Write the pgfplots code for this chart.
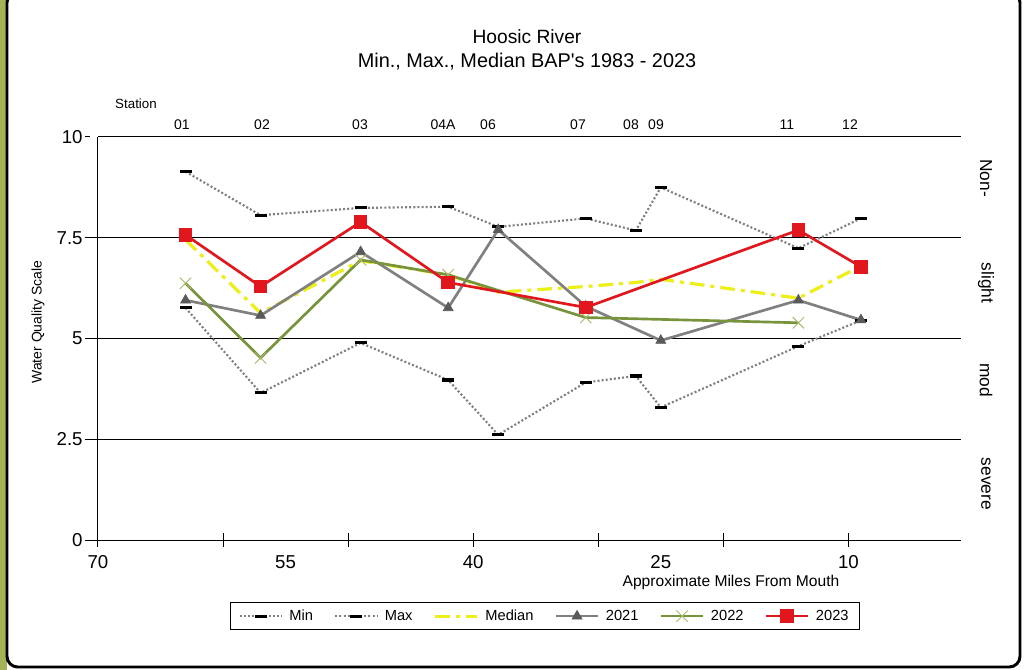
\documentclass[border=0pt]{standalone}
\usepackage{pgfplots}
\pgfplotsset{compat=1.18}
\usepackage{fontspec}
\setmainfont{Liberation Sans}
\definecolor{bgolive}{RGB}{165,178,85}
\definecolor{mmgrey}{RGB}{128,128,128}
\definecolor{medyellow}{RGB}{236,240,24}
\definecolor{g21line}{RGB}{128,128,128}
\definecolor{g21mark}{RGB}{90,90,90}
\definecolor{g22line}{RGB}{119,147,60}
\definecolor{g22mark}{RGB}{170,185,105}
\definecolor{r23}{RGB}{226,23,30}
\begin{document}
\begin{tikzpicture}
\begin{scope}[x=0.75pt,y=-0.75pt]
\useasboundingbox (0,0) rectangle (1026,670);
\fill[bgolive] (0,0) rectangle (1026,670);
\fill[white] (7,0) rectangle (1026,670);
\draw[line width=2.2pt, fill=white, rounded corners=8pt] (7,-8) rectangle (1020,667);
\end{scope}
\begin{axis}[
  at={(73.5pt,-405pt)}, anchor=south west,
  scale only axis, width=647.25pt, height=302.25pt,
  x dir=reverse, xmin=1, xmax=70, ymin=0, ymax=10,
  axis x line*=bottom, axis y line*=left,
  axis line style={line width=0.75pt, -},
  ytick={0,2.5,5,7.5,10}, yticklabels={0,2.5,5,7.5,10},
  ymajorgrids, grid style={black, line width=0.75pt},
  xtick={10,20,30,40,50,60,70}, xticklabels={10,{},{},40,{},{},70},
  xticklabel style={yshift=-3pt},
  extra x ticks={55,25}, extra x tick labels={55,25},
  extra x tick style={major tick length=0pt, grid=none,
     xticklabel style={yshift=-5pt}},
  x tick style={black, line width=0.75pt},
  y tick style={black, line width=0.75pt, shorten >=6pt},
  xtick align=center, ytick align=outside,
  major tick length=10pt,
  tick label style={font=\fontsize{14}{16}\selectfont},
  /pgf/number format/assume math mode=true,
  yticklabel style={xshift=2pt},
  clip=false,
  legend columns=6,
  legend image code/.code={\draw[mark repeat=2,mark phase=2] plot coordinates {(0cm,0cm) (0.55cm,0cm) (1.1cm,0cm)};},
  legend style={at={(0.518,-0.189)}, anchor=center, draw=black, line width=0.6pt,
    font=\fontsize{11}{13}\selectfont, inner xsep=6pt, inner ysep=3.5pt,
    /tikz/every even column/.append style={column sep=14pt},
    /tikz/every odd column/.append style={column sep=3pt}},
]
\addplot[mmgrey, line width=1.6pt, dash pattern=on 1.5pt off 1.6pt, mark=-, mark size=4.5pt,
  mark options={solid, black, line width=2.3pt}]
  coordinates {(63,5.76)(57,3.65)(49,4.89)(42,3.97)(38,2.61)(31,3.91)(27,4.07)(25,3.29)(14,4.81)(9,5.45)};
\addlegendentry{Min}
\addplot[mmgrey, line width=1.6pt, dash pattern=on 1.5pt off 1.6pt, mark=-, mark size=4.5pt,
  mark options={solid, black, line width=2.3pt}]
  coordinates {(63,9.14)(57,8.06)(49,8.24)(42,8.27)(38,7.77)(31,7.98)(27,7.68)(25,8.75)(14,7.24)(9,7.98)};
\addlegendentry{Max}
\addplot[medyellow, line width=2.4pt, dash pattern=on 11pt off 4.5pt on 3pt off 4.5pt, mark=none]
  coordinates {(63,7.45)(57,5.63)(49,6.93)(42,6.58)(38,6.15)(31,6.29)(27,6.39)(25,6.47)(14,6.0)(9,6.8)};
\addlegendentry{Median}
\addplot[g21line, line width=2pt, mark=triangle*, mark size=4.3pt,
  mark options={solid, fill=g21mark, draw=g21mark, line width=0.5pt}]
  coordinates {(63,5.95)(57,5.57)(49,7.15)(42,5.76)(38,7.7)(31,5.8)(25,4.95)(14,5.95)(9,5.46)};
\addlegendentry{2021}
\addplot[g22line, line width=2pt, mark=x, mark size=6pt,
  mark options={solid, draw=g22mark, line width=0.7pt}]
  coordinates {(63,6.37)(57,4.52)(49,6.95)(42,6.58)(31,5.52)(14,5.39)};
\addlegendentry{2022}
\addplot[r23, line width=2pt, mark=square*, mark size=4.1pt,
  mark options={solid, fill=r23, draw=r23}]
  coordinates {(63,7.57)(57,6.29)(49,7.89)(42,6.39)(31,5.77)(14,7.69)(9,6.78)};
\addlegendentry{2023}
\draw[black, line width=0.75pt] (axis cs:40,0) ++(0pt,5pt) -- ++(0pt,-10pt);
\draw[black, line width=0.75pt] (axis cs:10,0) ++(0pt,5pt) -- ++(0pt,-10pt);
\draw[black, line width=0.75pt] (axis cs:70,0) -- ++(0pt,-5pt);
\end{axis}
\begin{scope}[x=0.75pt,y=-0.75pt]
\node[font=\fontsize{14.4}{17}\selectfont] at (527,37) {Hoosic River};
\node[font=\fontsize{14.9}{17}\selectfont] at (527,62) {Min., Max., Median BAP\textquotesingle s 1983 - 2023};
\node[font=\fontsize{10}{12}\selectfont] at (136,104) {Station};
\foreach \lab/\xx in {01/182,02/262,03/360,04A/443,06/488,07/578,08/631,09/656,11/787,12/850}
  \node[font=\fontsize{10.5}{12}\selectfont] at (\xx,125) {\lab};
\node[rotate=90, font=\fontsize{10.5}{12}\selectfont] at (38,322) {Water Quality Scale};
\node[font=\fontsize{11.7}{13}\selectfont] at (731,582) {Approximate Miles From Mouth};
\node[rotate=-90, font=\fontsize{13}{15}\selectfont] at (986,178) {Non-};
\node[rotate=-90, font=\fontsize{13}{15}\selectfont] at (986,283) {slight};
\node[rotate=-90, font=\fontsize{13}{15}\selectfont] at (986,380) {mod};
\node[rotate=-90, font=\fontsize{13}{15}\selectfont] at (986,484) {severe};
\end{scope}
\end{tikzpicture}
\end{document}
